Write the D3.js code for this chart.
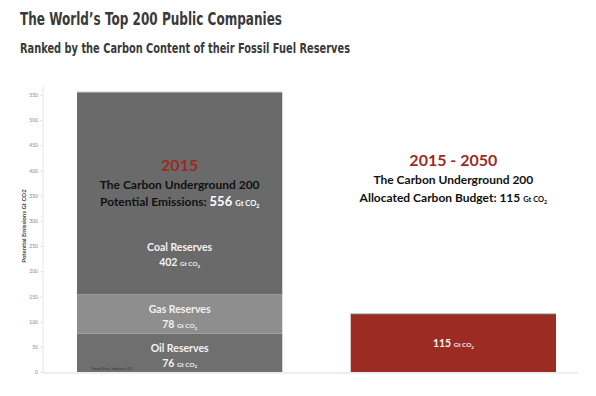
<!DOCTYPE html>
<html lang="en">
<head>
<meta charset="UTF-8">
<title>Carbon Underground 200</title>
<script src="https://cdn.jsdelivr.net/npm/d3@7"></script>
<style>
  body { margin:0; background:#fff; }
  svg text { font-family: Lato, "Open Sans", sans-serif; }
</style>
</head>
<body>
<div id="grafica"></div>
<script>
// data
var reserves = ['Oil Reserves', 'Gas Reserves', 'Coal Reserves']
var reserveValues = [76, 78, 402]
var budgetLabel = ['2015 - 2050']
var budgetValue = [115]
var ticks = [0,50,100,150,200,250,300,350,400,450,500,550]
var total = d3.sum(reserveValues)

var ancho = 596, alto = 396
var svg = d3.select('#grafica').append('svg')
  .attr('width', ancho).attr('height', alto)

// titles (condensed look via textLength)
svg.append('text').attr('x', 20).attr('y', 25)
  .style('font-family', '"DejaVu Sans", sans-serif')
  .style('font-weight', 'bold').style('font-size', '18px').attr('fill', '#3a3a3a')
  .attr('textLength', 262).attr('lengthAdjust', 'spacingAndGlyphs')
  .text('The World\u2019s Top 200 Public Companies')
svg.append('text').attr('x', 20).attr('y', 53)
  .style('font-family', '"DejaVu Sans", sans-serif')
  .style('font-weight', 'bold').style('font-size', '13.5px').attr('fill', '#3a3a3a')
  .attr('textLength', 330).attr('lengthAdjust', 'spacingAndGlyphs')
  .text('Ranked by the Carbon Content of their Fossil Fuel Reserves')

var y = d3.scaleLinear().domain([0, total]).range([372, 92])
var x = d3.scaleBand().domain(['2015', '2015 - 2050']).range([77, 556]).paddingInner(0.25).paddingOuter(0)

// axis
var axis = d3.axisLeft(y).tickValues(ticks).tickSize(3).tickPadding(2)
var g = svg.append('g').attr('transform', 'translate(43,0)').call(axis)
g.select('.domain').attr('stroke', '#e6e6e6').attr('d', 'M0,86V373')
g.selectAll('.tick line').attr('stroke', '#e6e6e6')
g.selectAll('.tick text').attr('fill', '#888').style('font-size', '5px')
  .style('font-family', 'Lato, sans-serif')

svg.append('text')
  .attr('transform', 'translate(26,226) rotate(-90)')
  .attr('text-anchor', 'middle').attr('fill', '#444')
  .style('font-size', '6px').style('font-weight', 'bold')
  .text('Potential Emissions Gt CO2')

// baseline
svg.append('line').attr('x1', 43).attr('x2', 578).attr('y1', 373).attr('y2', 373)
  .attr('stroke', '#e8e8e8').attr('stroke-width', 1.5)

// stacked bar
var colors = ['#6f6f6f', '#8e8e8e', '#6a6a6a']
var stack = []
var acc = 0
reserveValues.forEach(function(v, i) {
  stack.push({name: reserves[i], v: v, y0: acc, y1: acc + v})
  acc += v
})
var bx = x('2015'), bw = x.bandwidth()
svg.selectAll('rect.res').data(stack).enter().append('rect')
  .attr('class', 'res')
  .attr('x', bx).attr('width', bw)
  .attr('y', function(d) { return y(d.y1) })
  .attr('height', function(d) { return y(d.y0) - y(d.y1) })
  .attr('fill', function(d, i) { return colors[i] })
svg.append('line').attr('x1', bx).attr('x2', bx + bw).attr('y1', y(total)).attr('y2', y(total))
  .attr('stroke', '#cfcfcf').attr('stroke-width', 1)

// "Gt CO2" unit with a small lowered 2
function unit(t, size) {
  t.append('tspan').style('font-size', size + 'px').text('Gt CO')
  t.append('tspan').style('font-size', (size * 0.7) + 'px').attr('dy', size * 0.25).text('2')
}

function gtLabel(sel, cx, cy, num, size, fill) {
  var t = sel.append('text').attr('x', cx).attr('y', cy).attr('text-anchor', 'middle')
    .attr('fill', fill).style('font-weight', 'bold')
  t.append('tspan').style('font-size', size + 'px').text(num + ' ')
  unit(t, size * 0.6)
  return t
}

stack.forEach(function(d) {
  var mid = bx + bw / 2
  // coal label sits in the lower part of its segment, others centered
  var cy = d.name === 'Coal Reserves' ? y(d.y0 + d.v * 0.21) : y((d.y0 + d.y1) / 2)
  svg.append('text').attr('x', mid).attr('y', cy - 1).attr('text-anchor', 'middle')
    .attr('fill', '#f2f2f2').style('font-weight', 'bold').style('font-size', '10.5px')
    .text(d.name)
  gtLabel(svg, mid, cy + 14, d.v, 10.5, '#f2f2f2')
})

svg.append('text').attr('x', bx + 15).attr('y', 370)
  .attr('fill', '#333').style('font-size', '4px').text('Fossil Free Indexes LLC')

// header inside left bar
var lx = bx + bw / 2
svg.append('text').attr('x', lx).attr('y', 171).attr('text-anchor', 'middle')
  .attr('fill', '#9c2b23').style('font-weight', 'bold').style('font-size', '16px').text('2015')
svg.append('text').attr('x', lx).attr('y', 189).attr('text-anchor', 'middle')
  .attr('fill', '#111').style('font-weight', 'bold').style('font-size', '12px')
  .text('The Carbon Underground 200')
var pe = svg.append('text').attr('x', lx).attr('y', 206).attr('text-anchor', 'middle')
  .style('font-weight', 'bold')
pe.append('tspan').attr('fill', '#111').style('font-size', '12px').text('Potential Emissions: ')
pe.append('tspan').attr('fill', '#fff').style('font-size', '13px').text(total + ' ')
var peu = pe.append('tspan').attr('fill', '#fff')
unit(peu, 7.5)

// budget bar
var rx = x('2015 - 2050')
svg.selectAll('rect.bud').data(budgetValue).enter().append('rect')
  .attr('class', 'bud')
  .attr('x', rx).attr('width', bw)
  .attr('y', function(d) { return y(d) })
  .attr('height', function(d) { return y(0) - y(d) })
  .attr('fill', '#9c2b23')
svg.append('line').attr('x1', rx).attr('x2', rx + bw).attr('y1', y(budgetValue[0])).attr('y2', y(budgetValue[0]))
  .attr('stroke', '#6b6b6b').attr('stroke-width', 1)
var mx = rx + bw / 2
gtLabel(svg, mx, y(budgetValue[0] / 2) + 4, budgetValue[0], 10.5, '#f2f2f2')

svg.append('text').attr('x', mx).attr('y', 166).attr('text-anchor', 'middle')
  .attr('fill', '#9c2b23').style('font-weight', 'bold').style('font-size', '16px').text(budgetLabel[0])
svg.append('text').attr('x', mx).attr('y', 184).attr('text-anchor', 'middle')
  .attr('fill', '#111').style('font-weight', 'bold').style('font-size', '12px')
  .text('The Carbon Underground 200')
var ab = svg.append('text').attr('x', mx).attr('y', 202).attr('text-anchor', 'middle')
  .style('font-weight', 'bold').attr('fill', '#111')
ab.append('tspan').style('font-size', '12px').text('Allocated Carbon Budget: ' + budgetValue[0] + ' ')
unit(ab, 7.5)
</script>
</body>
</html>
